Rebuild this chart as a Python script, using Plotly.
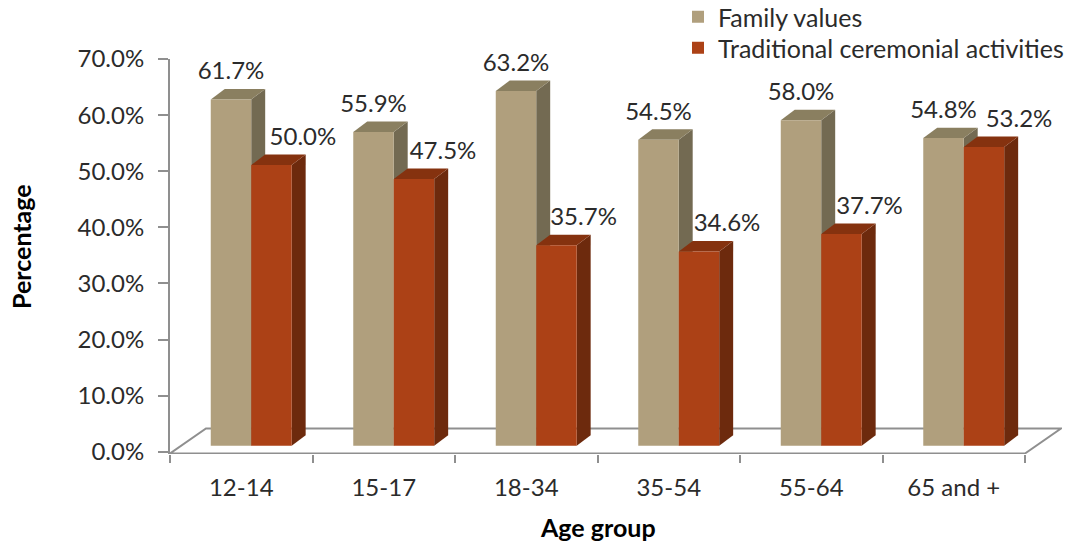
import plotly.graph_objects as go

# Survey results by age group
age_groups = ["12-14", "15-17", "18-34", "35-54", "55-64", "65 and +"]
family_values = [61.7, 55.9, 63.2, 54.5, 58.0, 54.8]
ceremonial = [50.0, 47.5, 35.7, 34.6, 37.7, 53.2]
series_names = ["Family values", "Traditional ceremonial activities"]
y_ticks = [0, 10, 20, 30, 40, 50, 60, 70]

FONT = "Lato"
TEXT = "#2b2b2b"
AXIS = "#8f8f8f"
TAN = ("#B09F7D", "#8A7F60", "#736A52")   # front, top, side
RUST = ("#AC4116", "#85320F", "#6D2A0D")

# Drawing geometry, all in axis units
BAR_W = 0.284
TAN_OFF = -0.214
RUST_OFF = TAN_OFF + BAR_W
BASE = 1.1           # bars stand slightly in from the front of the floor
DEPTH_X = 0.098      # oblique depth of a bar
DEPTH_Y = 1.87
FLOOR_X = 0.2525     # oblique depth of the floor
FLOOR_Y = 4.45
FRONT_Y = -0.3

positions = list(range(len(age_groups)))


def poly(points, color):
    path = "M" + " L".join(f"{x},{y}" for x, y in points) + " Z"
    return dict(type="path", path=path, xref="x", yref="y", layer="below",
                fillcolor=color, line=dict(width=0))


def depth_faces(offset, values, palette):
    faces = []
    for i, v in zip(positions, values):
        left, right = i + offset, i + offset + BAR_W
        top = BASE + v
        faces.append(poly([(right, BASE), (right + DEPTH_X, BASE + DEPTH_Y),
                           (right + DEPTH_X, top + DEPTH_Y), (right, top)], palette[2]))
        faces.append(poly([(left, top), (left + DEPTH_X, top + DEPTH_Y),
                           (right + DEPTH_X, top + DEPTH_Y), (right, top)], palette[1]))
    return faces


x_lo, x_hi = -0.5, -0.5 + 892 / 142.5
n = len(age_groups)
floor = dict(type="path", xref="x", yref="y", layer="below",
             path=f"M{x_lo},{FRONT_Y} L{n - 0.5},{FRONT_Y} L{n - 0.5 + FLOOR_X},{FRONT_Y + FLOOR_Y} "
                  f"L{x_lo + FLOOR_X},{FRONT_Y + FLOOR_Y} Z",
             fillcolor="rgba(0,0,0,0)", line=dict(color=AXIS, width=2))

fig = go.Figure()
for name, values, offset, palette, legend_id in [
    (series_names[0], family_values, TAN_OFF, TAN, "legend"),
    (series_names[1], ceremonial, RUST_OFF, RUST, "legend2"),
]:
    fig.add_trace(go.Bar(x=positions, y=values, base=BASE, width=BAR_W, offset=offset,
                         name=name, legend=legend_id,
                         marker=dict(color=palette[0], line=dict(width=0)),
                         hoverinfo="skip"))

# Value labels sit above each bar; the rust series labels lean right of their bars
LABEL_LIFT = 5.75
rust_shift = [0.433, 0.416, 0.402, 0.409, 0.409, 0.458]
fig.add_trace(go.Scatter(x=[i + TAN_OFF + BAR_W / 2 for i in positions],
                         y=[v + LABEL_LIFT for v in family_values],
                         text=[f"{v:.1f}%" for v in family_values],
                         mode="text", textposition="middle center",
                         textfont=dict(family=FONT, size=24, color=TEXT),
                         showlegend=False, hoverinfo="skip", cliponaxis=False))
fig.add_trace(go.Scatter(x=[i + s for i, s in zip(positions, rust_shift)],
                         y=[v + LABEL_LIFT for v in ceremonial],
                         text=[f"{v:.1f}%" for v in ceremonial],
                         mode="text", textposition="middle center",
                         textfont=dict(family=FONT, size=24, color=TEXT),
                         showlegend=False, hoverinfo="skip", cliponaxis=False))

title_font = dict(family=FONT, size=25, color="#000000")
legend_style = dict(x=(678 - 170) / 892, xanchor="left", yanchor="top",
                    bgcolor="rgba(0,0,0,0)", itemwidth=30,
                    font=dict(family=FONT, size=25, color=TEXT))

fig.update_layout(
    width=1068, height=542,
    margin=dict(l=170, r=6, t=59, b=88, pad=0, autoexpand=False),
    paper_bgcolor="white", plot_bgcolor="white",
    barmode="overlay",
    font=dict(family=FONT, size=24, color=TEXT),
    shapes=[floor] + depth_faces(TAN_OFF, family_values, TAN) + depth_faces(RUST_OFF, ceremonial, RUST),
    legend=dict(y=(454 + 6) / 395, **legend_style),
    legend2=dict(y=(454 - 25) / 395, **legend_style),
    annotations=[
        dict(text="<b>Age group</b>", xref="x", yref="paper", x=(n - 1) / 2, y=(454 - 527) / 395,
             xanchor="center", yanchor="middle", showarrow=False, font=title_font),
        dict(text="<b>Percentage</b>", xref="paper", yref="y", x=(21 - 170) / 892, y=36.5,
             xanchor="center", yanchor="middle", textangle=-90, showarrow=False, font=title_font),
    ],
    xaxis=dict(range=[x_lo, x_hi], tickmode="array", tickvals=positions, ticktext=age_groups,
               ticks="", showgrid=False, zeroline=False, showline=False,
               ticklabelstandoff=17,
               tickfont=dict(family=FONT, size=24, color=TEXT),
               minor=dict(tickmode="array", tickvals=[i - 0.5 for i in range(n + 1)],
                          ticks="outside", ticklen=8, tickwidth=2, tickcolor=AXIS, showgrid=False)),
    yaxis=dict(range=[-0.39, 70], tickmode="array", tickvals=y_ticks,
               ticktext=[f"{t:.1f}%" for t in y_ticks],
               ticks="outside", ticklen=10, tickwidth=2, tickcolor=AXIS,
               showgrid=False, zeroline=False, showline=True, linecolor=AXIS, linewidth=2,
               ticklabelstandoff=9,
               tickfont=dict(family=FONT, size=24, color=TEXT)),
)

fig.write_html("out.html")
